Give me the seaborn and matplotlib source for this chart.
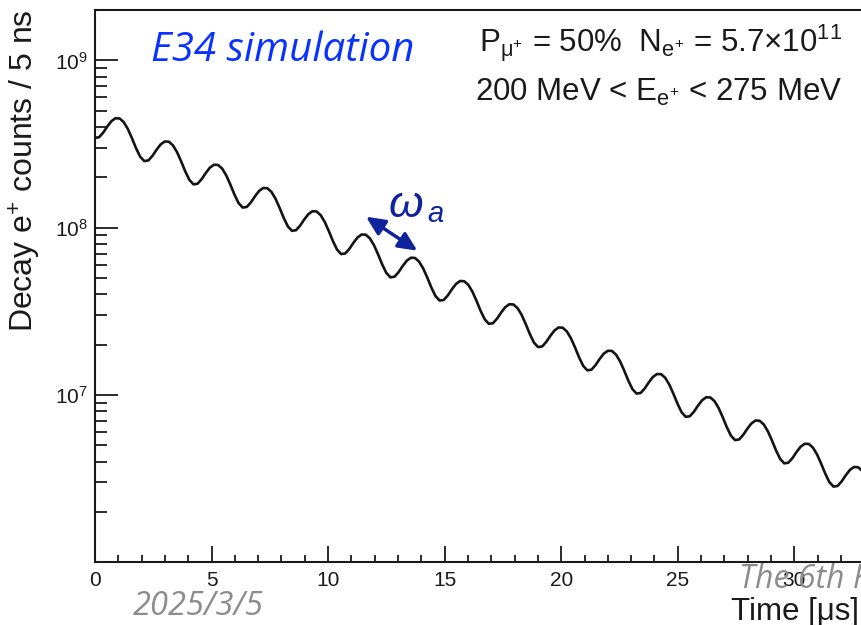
import numpy as np
import pandas as pd
import seaborn as sns
import matplotlib.pyplot as plt
from matplotlib.ticker import MultipleLocator, LogLocator, FixedLocator, NullFormatter

# values, one row per wiggle period
time_us = [
    0, 0.176, 0.352, 0.528, 0.704, 0.88, 1.056, 1.232, 1.408, 1.584, 1.76, 1.936,
    2.112, 2.288, 2.464, 2.64, 2.816, 2.992, 3.168, 3.344, 3.52, 3.696, 3.872, 4.048,
    4.224, 4.4, 4.576, 4.752, 4.928, 5.104, 5.28, 5.456, 5.632, 5.808, 5.984, 6.16,
    6.336, 6.512, 6.688, 6.864, 7.04, 7.216, 7.392, 7.568, 7.744, 7.92, 8.096, 8.272,
    8.448, 8.624, 8.8, 8.976, 9.152, 9.328, 9.504, 9.68, 9.856, 10.032, 10.208, 10.384,
    10.56, 10.736, 10.912, 11.088, 11.264, 11.44, 11.616, 11.792, 11.968, 12.144, 12.32, 12.496,
    12.672, 12.848, 13.024, 13.2, 13.376, 13.552, 13.728, 13.904, 14.08, 14.256, 14.432, 14.608,
    14.784, 14.96, 15.136, 15.312, 15.488, 15.664, 15.84, 16.016, 16.192, 16.368, 16.544, 16.72,
    16.896, 17.072, 17.248, 17.424, 17.6, 17.776, 17.952, 18.128, 18.304, 18.48, 18.656, 18.832,
    19.008, 19.184, 19.36, 19.536, 19.712, 19.888, 20.064, 20.24, 20.416, 20.592, 20.768, 20.944,
    21.12, 21.296, 21.472, 21.648, 21.824, 22.0, 22.176, 22.352, 22.528, 22.704, 22.88, 23.056,
    23.232, 23.408, 23.584, 23.76, 23.936, 24.112, 24.288, 24.464, 24.64, 24.816, 24.992, 25.168,
    25.344, 25.52, 25.696, 25.872, 26.048, 26.224, 26.4, 26.576, 26.752, 26.928, 27.104, 27.28,
    27.456, 27.632, 27.808, 27.984, 28.16, 28.336, 28.512, 28.688, 28.864, 29.04, 29.216, 29.392,
    29.568, 29.744, 29.92, 30.096, 30.272, 30.448, 30.624, 30.8, 30.976, 31.152, 31.328, 31.504,
    31.68, 31.856, 32.032, 32.208, 32.384, 32.56, 32.736, 32.912,
]

# decay e+ counts / 5 ns, in millions
counts_M = [
    344.44, 347.32, 369.95, 402.48, 433.04, 450.97, 449.56, 427.55, 389.22, 342.97, 298.88, 266.02,
    250.11, 252.21, 268.64, 292.26, 314.45, 327.47, 326.45, 310.46, 282.63, 249.05, 217.03, 193.17,
    181.62, 183.14, 195.07, 212.22, 228.34, 237.79, 237.05, 225.44, 205.23, 180.85, 157.60, 140.27,
    131.88, 132.99, 141.65, 154.11, 165.81, 172.67, 172.13, 163.71, 149.03, 131.32, 114.44, 101.86,
    95.77, 96.57, 102.86, 111.90, 120.40, 125.39, 124.99, 118.87, 108.22, 95.36, 83.10, 73.96,
    69.54, 70.12, 74.69, 81.26, 87.43, 91.05, 90.76, 86.32, 78.58, 69.24, 60.34, 53.71,
    50.50, 50.92, 54.24, 59.01, 63.49, 66.12, 65.91, 62.68, 57.06, 50.28, 43.82, 39.00,
    36.67, 36.98, 39.38, 42.85, 46.10, 48.01, 47.86, 45.52, 41.44, 36.51, 31.82, 28.32,
    26.63, 26.85, 28.60, 31.11, 33.48, 34.86, 34.75, 33.05, 30.09, 26.51, 23.11, 20.56,
    19.34, 19.50, 20.77, 22.59, 24.31, 25.32, 25.24, 24.00, 21.85, 19.25, 16.78, 14.93,
    14.04, 14.16, 15.08, 16.41, 17.65, 18.38, 18.33, 17.43, 15.87, 13.98, 12.18, 10.84,
    10.20, 10.28, 10.95, 11.91, 12.82, 13.35, 13.31, 12.66, 11.52, 10.15, 8.847, 7.875,
    7.404, 7.466, 7.952, 8.651, 9.308, 9.693, 9.663, 9.190, 8.366, 7.372, 6.424, 5.718,
    5.376, 5.421, 5.774, 6.282, 6.759, 7.039, 7.017, 6.673, 6.075, 5.353, 4.665, 4.152,
    3.904, 3.937, 4.193, 4.562, 4.908, 5.111, 5.095, 4.846, 4.411, 3.887, 3.388, 3.015,
    2.835, 2.859, 3.045, 3.313, 3.564, 3.712, 3.700, 3.519,
]

y_major = [1e7, 1e8, 1e9]
y_major_labels = [r'$\mathregular{10^{7}}$', r'$\mathregular{10^{8}}$', r'$\mathregular{10^{9}}$']

sns.set_theme(style='ticks')
plt.rcParams['font.family'] = ['Liberation Sans', 'DejaVu Sans']
plt.rcParams['mathtext.fontset'] = 'custom'
plt.rcParams['mathtext.rm'] = 'Liberation Sans'
plt.rcParams['mathtext.it'] = 'Liberation Sans:italic'
plt.rcParams['mathtext.bf'] = 'Liberation Sans:bold'
plt.rcParams['mathtext.sf'] = 'Liberation Sans'

df = pd.DataFrame({'time': time_us, 'counts': np.array(counts_M) * 1e6})

W, H = 861, 625
fig = plt.figure(figsize=(W / 100, H / 100), dpi=100)
fig.patch.set_facecolor('white')
ax = fig.add_axes([95 / W, 1 - 562.3 / H, 35 * 23.31 / W, (562.3 - 10) / H])
ax.set_facecolor('white')

sns.lineplot(data=df, x='time', y='counts', ax=ax, color='#141414', linewidth=1.9)

ax.set_yscale('log')
ax.set_ylim(1e6, 2e9)
ax.set_xlim(0, 35)
ax.set_xlabel('')
ax.set_ylabel('')

ax.xaxis.set_major_locator(MultipleLocator(5))
ax.xaxis.set_minor_locator(MultipleLocator(1))
ax.yaxis.set_major_locator(FixedLocator(y_major))
ax.yaxis.set_minor_locator(LogLocator(base=10, subs=range(2, 10)))
ax.yaxis.set_minor_formatter(NullFormatter())
ax.set_yticklabels(y_major_labels)

ax.tick_params(which='both', direction='in', top=False, right=False, colors='#1a1a1a')
ax.tick_params(axis='y', which='major', length=16.5, width=1.3, pad=5, labelsize=15)
ax.tick_params(axis='y', which='minor', length=8.6, width=1.3)
ax.tick_params(axis='x', which='major', length=11.5, width=1.3, pad=6, labelsize=15)
ax.tick_params(axis='x', which='minor', length=5.4, width=1.3)
for s in ax.spines.values():
    s.set_linewidth(1.5)
    s.set_color('#1a1a1a')

# axis titles (ROOT style, aligned to the axis ends)
fig.text(25 / W, 1 - 9 / H, r'Decay e$^{+}$ counts / 5 ns', rotation=90,
         ha='center', va='top', fontsize=23, color='#1a1a1a')
fig.text(731 / W, 1 - 620 / H, 'Time [μs]', ha='left', va='baseline',
         fontsize=22.5, color='#1a1a1a')

# labels in the frame
fig.text(151 / W, 1 - 61 / H, 'E34 simulation', color='#0a32ff', fontsize=29,
         style='italic', family=['Open Sans', 'DejaVu Sans'], va='baseline')
fig.text(842 / W, 1 - 52 / H,
         r'P$_{\mathregular{\mu^{+}}}$ = 50%  N$_{\mathregular{e^{+}}}$ = 5.7$\mathregular{\times}$10$^{11}$',
         ha='right', va='baseline', fontsize=22.5, color='#1a1a1a')
fig.text(842 / W, 1 - 101 / H, r'200 MeV < E$_{\mathregular{e^{+}}}$ < 275 MeV',
         ha='right', va='baseline', fontsize=22.5, color='#1a1a1a')

omega_col = '#0f239c'
fig.text(389 / W, 1 - 217 / H, 'ω', style='italic', fontsize=32, color=omega_col, va='baseline')
fig.text(427 / W, 1 - 222 / H, 'a', style='italic', fontsize=21, color=omega_col, va='baseline')
ax.annotate('', xy=(366 / W, 1 - 216.7 / H), xytext=(417.3 / W, 1 - 250.7 / H),
            xycoords='figure fraction', textcoords='figure fraction',
            arrowprops=dict(arrowstyle='<|-|>,head_length=0.75,head_width=0.35',
                            mutation_scale=15, color=omega_col, lw=2.5,
                            shrinkA=0, shrinkB=0))

# slide footer
fig.text(133 / W, 1 - 615 / H, '2025/3/5', color='#8c8c8c', style='italic', fontsize=23.5,
         family=['Open Sans', 'DejaVu Sans'], va='baseline')
fig.text(739 / W, 1 - 588 / H, 'The 6th K', color='#8c8c8c', style='italic', fontsize=23,
         family=['Open Sans', 'DejaVu Sans'], va='baseline')

fig.savefig('out.png', dpi=100)
